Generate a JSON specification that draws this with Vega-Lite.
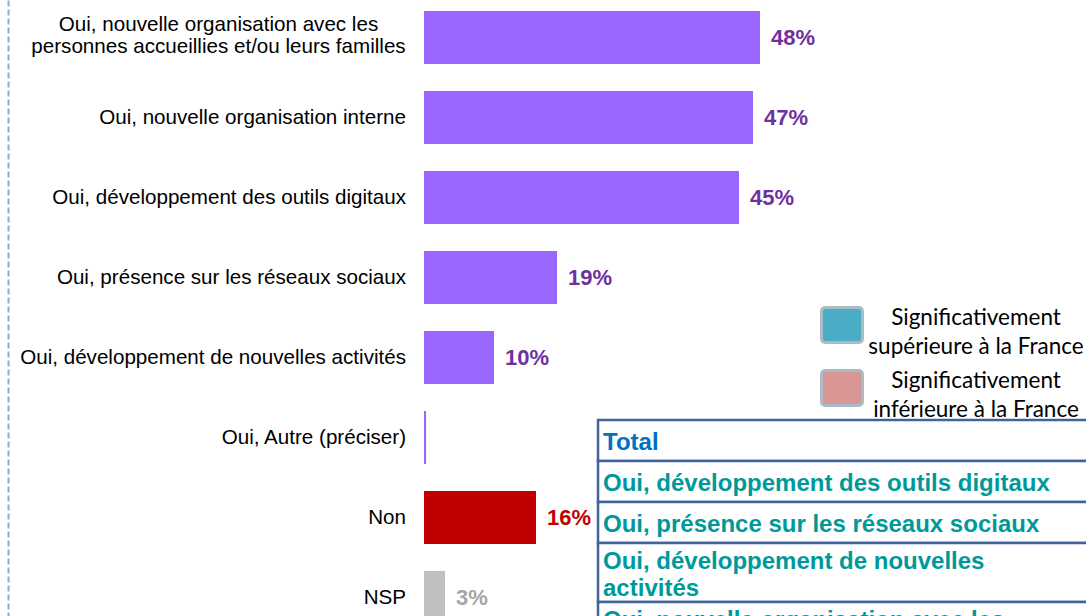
{
  "$schema": "https://vega.github.io/schema/vega-lite/v6.json",
  "autosize": {"type": "none"},
  "padding": {"left": 8, "top": 0, "right": 0, "bottom": 0},
  "width": 1116,
  "height": 700,
  "background": "white",
  "config": {"view": {"stroke": null}, "style": {"guide-label": {"lineHeight": 29}}},
  "datasets": {
    "bars": [
      {"label": "Oui, nouvelle organisation avec les\npersonnes accueillies et/ou leurs familles", "pct": 48, "txt": "48%", "grp": "oui"},
      {"label": "Oui, nouvelle organisation interne", "pct": 47, "txt": "47%", "grp": "oui"},
      {"label": "Oui, développement des outils digitaux", "pct": 45, "txt": "45%", "grp": "oui"},
      {"label": "Oui, présence sur les réseaux sociaux", "pct": 19, "txt": "19%", "grp": "oui"},
      {"label": "Oui, développement de nouvelles activités", "pct": 10, "txt": "10%", "grp": "oui"},
      {"label": "Oui, Autre (préciser)", "pct": 0.3, "txt": "", "grp": "oui"},
      {"label": "Non", "pct": 16, "txt": "16%", "grp": "non"},
      {"label": "NSP", "pct": 3, "txt": "3%", "grp": "nsp"}
    ],
    "table": [
      {"row": "Total", "kind": "total"},
      {"row": "Oui, développement des outils digitaux", "kind": "item"},
      {"row": "Oui, présence sur les réseaux sociaux", "kind": "item"},
      {"row": "Oui, développement de nouvelles\nactivités", "kind": "item"},
      {"row": "Oui, nouvelle organisation avec les\npersonnes accueillies et/ou leurs familles", "kind": "item"}
    ],
    "legend": [
      {"sig": "Significativement supérieure à la France"},
      {"sig": "Significativement inférieure à la France"}
    ]
  },
  "resolve": {"scale": {"y": "independent"}, "axis": {"y": "independent"}},
  "layer": [
    {
      "data": {"name": "bars"},
      "encoding": {
        "y": {
          "field": "label", "type": "nominal", "sort": null,
          "scale": {"paddingInner": 0.3375, "paddingOuter": 0.54375, "align": 0.12644},
          "axis": {"labels": false, "ticks": false, "title": null, "grid": false, "domain": true,
                   "domainDash": [6, 3], "domainColor": "#8FAADC", "domainWidth": 2}
        }
      },
      "layer": [
        {
          "mark": {"type": "bar"},
          "encoding": {
            "x": {"field": "pct", "type": "quantitative", "scale": {"domain": [-59.4286, 100], "nice": false, "zero": false}, "axis": null},
            "color": {"condition": [
              {"test": "datum.grp == 'non'", "value": "#C00000"},
              {"test": "datum.grp == 'nsp'", "value": "#BFBFBF"}
            ], "value": "#9966FF"}
          }
        },
        {
          "mark": {"type": "text", "align": "left", "baseline": "middle", "dx": 11, "font": "Liberation Sans", "fontSize": 22, "fontWeight": "bold"},
          "encoding": {
            "x": {"field": "pct", "type": "quantitative"},
            "text": {"field": "txt"},
            "color": {"condition": [
              {"test": "datum.grp == 'non'", "value": "#C00000"},
              {"test": "datum.grp == 'nsp'", "value": "#A6A6A6"}
            ], "value": "#7030A0"}
          }
        },
        {
          "transform": [{"filter": "indexof(datum.label, '\\n') < 0"}],
          "mark": {"type": "text", "align": "right", "baseline": "middle", "dx": -18, "font": "Liberation Sans", "fontSize": 20.6, "color": "#000000"},
          "encoding": {
            "x": {"datum": 0},
            "text": {"field": "label"}
          }
        },
        {
          "transform": [{"filter": "indexof(datum.label, '\\n') >= 0"}],
          "mark": {"type": "text", "align": "center", "baseline": "middle", "dx": -205.5, "dy": -12.5, "font": "Liberation Sans", "fontSize": 20.6, "lineHeight": 22, "lineBreak": "\n", "color": "#000000"},
          "encoding": {
            "x": {"datum": 0},
            "text": {"field": "label"}
          }
        }
      ]
    },
    {
      "data": {"name": "table"},
      "resolve": {"scale": {"y": "independent"}, "axis": {"y": "independent"}},
      "layer": [
        {
          "transform": [{"filter": "indexof(datum.row, '\\n') < 0"}],
          "encoding": {
            "y": {
              "field": "row", "type": "nominal", "sort": null,
              "scale": {"paddingInner": 0, "paddingOuter": 0, "range": [420, 543]},
              "axis": null
            }
          },
          "layer": [
            {
              "mark": {"type": "rect", "fill": "white", "stroke": "#41639B", "strokeWidth": 2.5},
              "encoding": {
                "x": {"datum": 24.86},
                "x2": {"datum": 100}
              }
            },
            {
              "mark": {"type": "text", "align": "left", "baseline": "middle", "dx": 5, "dy": 2.5, "font": "Liberation Sans", "fontSize": 24, "fontWeight": "bold"},
              "encoding": {
                "x": {"datum": 24.86},
                "text": {"field": "row"},
                "color": {"condition": {"test": "datum.kind == 'total'", "value": "#0070C0"}, "value": "#009999"}
              }
            }
          ]
        },
        {
          "transform": [{"filter": "indexof(datum.row, '\\n') >= 0"}],
          "encoding": {
            "y": {
              "field": "row", "type": "nominal", "sort": null,
              "scale": {"paddingInner": 0, "paddingOuter": 0, "range": [543, 661]},
              "axis": null
            }
          },
          "layer": [
            {
              "mark": {"type": "rect", "fill": "white", "stroke": "#41639B", "strokeWidth": 2.5},
              "encoding": {
                "x": {"datum": 24.86},
                "x2": {"datum": 100}
              }
            },
            {
              "mark": {"type": "text", "align": "left", "baseline": "middle", "dx": 5, "dy": -10.5, "font": "Liberation Sans", "fontSize": 24, "fontWeight": "bold", "lineHeight": 27, "lineBreak": "\n"},
              "encoding": {
                "x": {"datum": 24.86},
                "text": {"field": "row"},
                "color": {"value": "#009999"}
              }
            }
          ]
        }
      ]
    },
    {
      "data": {"name": "legend"},
      "mark": {"type": "point", "opacity": 0, "filled": true},
      "encoding": {
        "color": {
          "field": "sig", "type": "nominal", "sort": null,
          "scale": {"domain": ["Significativement supérieure à la France", "Significativement inférieure à la France"], "range": ["#4BACC6", "#D99694"]},
          "legend": {
            "title": null,
            "orient": "none",
            "legendX": 812,
            "legendY": 303,
            "padding": 0,
            "symbolType": "M -0.8 -0.85 L 0.8 -0.85 Q 1 -0.85 1 -0.65 L 1 0.65 Q 1 0.85 0.8 0.85 L -0.8 0.85 Q -1 0.85 -1 0.65 L -1 -0.65 Q -1 -0.85 -0.8 -0.85 Z",
            "symbolSize": 1681,
            "symbolStrokeColor": "#A9BCC6",
            "symbolStrokeWidth": 3,
            "symbolOpacity": 1,
            "labelExpr": "['Significativement', replace(datum.label, 'Significativement ', '')]",
            "labelAlign": "center",
            "labelBaseline": "alphabetic",
            "labelOffset": 112,
            "labelFont": "Lato",
            "labelFontSize": 22.5,
            "labelColor": "#000000",
            "labelLimit": 400,
            "rowPadding": 5
          }
        }
      }
    }
  ]
}
